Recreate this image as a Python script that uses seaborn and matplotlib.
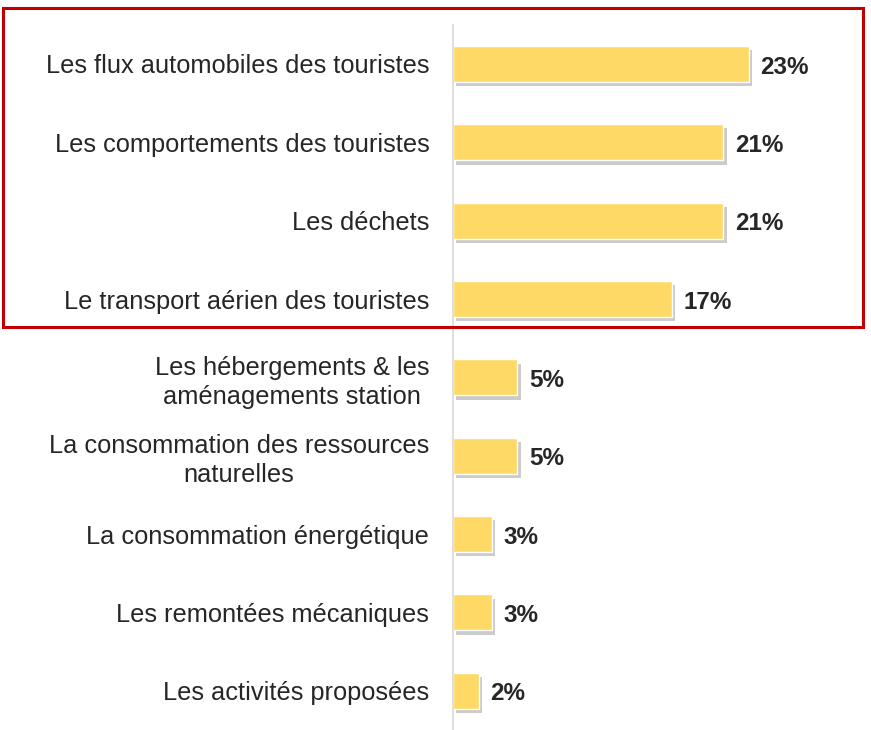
import numpy as np
import pandas as pd
import matplotlib
matplotlib.use("Agg")
import matplotlib.pyplot as plt
import matplotlib.patheffects as pe
from matplotlib.patches import Rectangle
import seaborn as sns

categories = [
    "Les flux automobiles des touristes",
    "Les comportements des touristes",
    "Les déchets",
    "Le transport aérien des touristes",
    "Les hébergements & les\naménagements station",
    "La consommation des ressources\nnaturelles",
    "La consommation énergétique",
    "Les remontées mécaniques",
    "Les activités proposées",
]
values = [23, 21, 21, 17, 5, 5, 3, 3, 2]
value_labels = ["23%", "21%", "21%", "17%", "5%", "5%", "3%", "3%", "2%"]

df = pd.DataFrame({"categorie": categories, "part": values})

sns.set_style("white")
plt.rcParams["font.family"] = ["Liberation Sans", "DejaVu Sans"]

fig = plt.figure(figsize=(8.71, 7.30), dpi=100)
ax = fig.add_axes([0.52, 0.0, 0.47, 0.966])

sns.barplot(data=df, x="part", y="categorie", orient="h", color="#FFD966",
            width=0.46, saturation=1, ax=ax)

# ombre portée façon Excel
shadow = [pe.SimplePatchShadow(offset=(2.5, -3), shadow_rgbFace="#8c8c8c", alpha=0.45),
          pe.Normal()]
for patch in ax.patches:
    patch.set_path_effects(shadow)

for i, (v, lab) in enumerate(zip(values, value_labels)):
    ax.text(v + 0.9, i + 0.04, lab, va="center", ha="left", fontsize=17.5,
            fontweight="bold", color="#262626")

ax.set_xlim(0, 31.8)
ax.set_ylim(8.5, -0.5)
ax.set_xlabel("")
ax.set_ylabel("")
ax.set_xticks([])
ax.tick_params(axis="y", length=0, pad=17, labelsize=18.3, labelcolor="#262626")
for t in ax.get_yticklabels():
    t.set_multialignment("center")
    t.set_linespacing(1.25)

for side in ["top", "right", "bottom"]:
    ax.spines[side].set_visible(False)
ax.spines["left"].set_color("#d9d9d9")
ax.spines["left"].set_linewidth(1.2)

# cadre rouge autour du top 4
fig.patches.append(Rectangle((0.0035, 0.552), 0.987, 0.437, transform=fig.transFigure,
                             fill=False, edgecolor="#C00000", linewidth=2.2))

plt.savefig("out.png", dpi=100)
plt.close()
